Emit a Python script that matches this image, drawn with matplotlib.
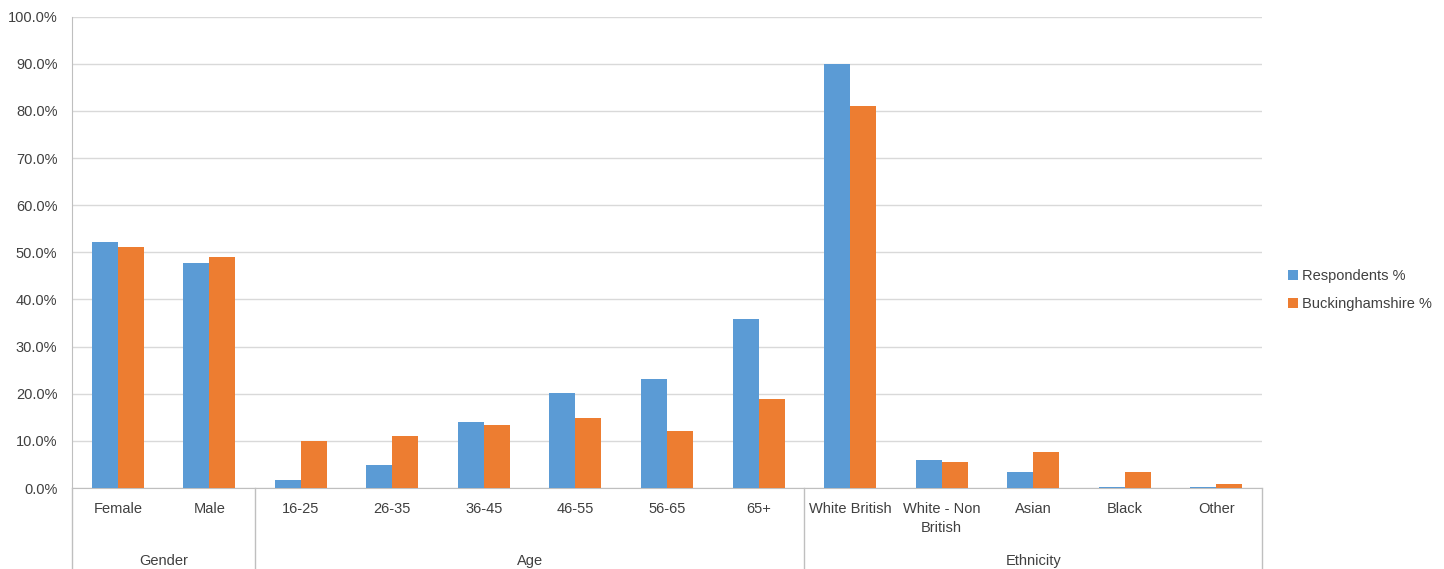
import matplotlib
matplotlib.use("Agg")
import matplotlib.pyplot as plt
import matplotlib.transforms as mtransforms
from matplotlib.ticker import PercentFormatter

plt.rcParams['font.family'] = ['Liberation Sans', 'DejaVu Sans']

# data
categories = ['Female', 'Male', '16-25', '26-35', '36-45', '46-55', '56-65', '65+',
              'White British', 'White - Non\nBritish', 'Asian', 'Black', 'Other']
respondents = [52.2, 47.7, 1.8, 4.8, 14.1, 20.2, 23.1, 35.9, 90.0, 6.0, 3.3, 0.3, 0.3]
bucks = [51.1, 49.0, 9.9, 11.0, 13.4, 14.9, 12.0, 18.9, 81.0, 5.5, 7.7, 3.5, 0.9]
groups = ['Gender', 'Age', 'Ethnicity']
group_sizes = [2, 6, 5]

blue = '#5B9BD5'
orange = '#ED7D31'
grid_col = '#D9D9D9'
axis_col = '#BFBFBF'
text_col = '#404040'

fig = plt.figure(figsize=(14.44, 5.69), dpi=100)
ax = fig.add_axes([72 / 1444, 81 / 569, (1262 - 72) / 1444, (488 - 16.7) / 569])

x = list(range(len(categories)))
w = 0.284
ax.bar([i - w / 2 for i in x], respondents, width=w, color=blue, label='Respondents %', zorder=3)
ax.bar([i + w / 2 for i in x], bucks, width=w, color=orange, label='Buckinghamshire %', zorder=3)

ax.set_xlim(-0.5, len(categories) - 0.5)
ax.set_ylim(0, 100)
ax.set_yticks(range(0, 101, 10))
ax.yaxis.set_major_formatter(PercentFormatter(decimals=1))
ax.grid(axis='y', color=grid_col, linewidth=1.0, zorder=0)
ax.tick_params(axis='y', length=0, pad=10.5, labelsize=10.5, labelcolor=text_col)
ax.tick_params(axis='x', length=0, labelbottom=False)
for s in ['top', 'right']:
    ax.spines[s].set_visible(False)
ax.spines['left'].set_color(axis_col)
ax.spines['bottom'].set_color(axis_col)

trans = mtransforms.blended_transform_factory(ax.transData, ax.transAxes)
px = 1 / (488 - 16.7)  # one pixel in axes units

# category labels
for i, c in enumerate(categories):
    ax.text(i, -14 * px, c, transform=trans, ha='center', va='top', fontsize=10.5,
            color=text_col, linespacing=1.45)

# group labels and separators
start = 0
edges = [-0.5]
for g, n in zip(groups, group_sizes):
    mid = start + (n - 1) / 2
    ax.text(mid, -73 * px, g, transform=trans, ha='center', va='center', fontsize=10.5,
            color=text_col)
    start += n
    edges.append(start - 0.5)
for e in edges:
    ax.plot([e, e], [0, -82 * px], transform=trans, color=axis_col, linewidth=1.0,
            clip_on=False)

fig.legend(loc='center left', bbox_to_anchor=(1275 / 1444, 1 - 290 / 569), frameon=False,
           fontsize=10.5, handlelength=0.7, handleheight=0.7, handletextpad=0.25,
           labelspacing=1.0, labelcolor=text_col)

fig.savefig('out.png', dpi=100)
